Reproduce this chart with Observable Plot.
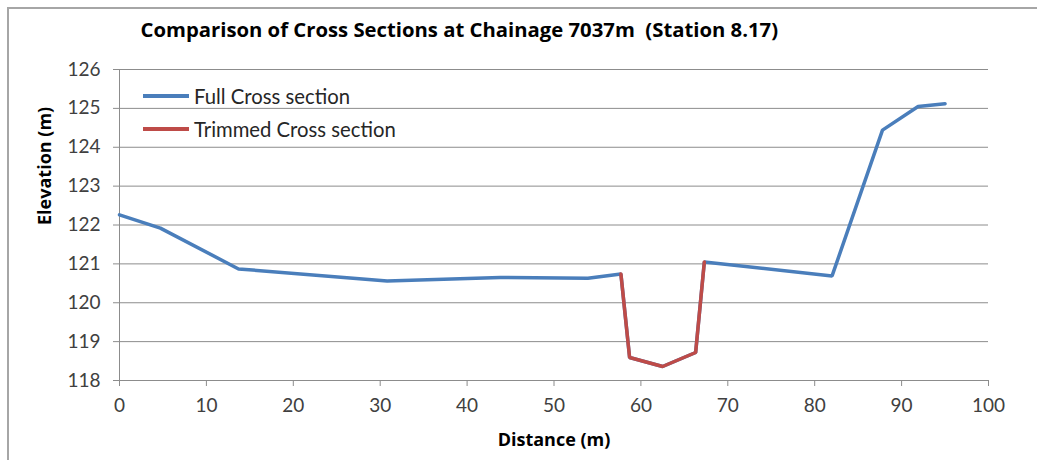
<!DOCTYPE html>
<html><head><meta charset="utf-8">
<script src="https://cdn.jsdelivr.net/npm/d3@7"></script>
<script src="https://cdn.jsdelivr.net/npm/@observablehq/plot@0.6"></script>
<style>
body{margin:0;background:#fff;font-family:Lato,"Open Sans",sans-serif;}
#wrap{position:relative;width:1037px;height:460px;overflow:hidden;}
#border{position:absolute;left:7px;top:7px;width:1040px;height:460px;border-top:2px solid #a6a6a6;border-left:2px solid #a6a6a6;}
.leg{position:absolute;left:143px;display:flex;align-items:center;font-size:20.3px;color:#262626;}
.leg span.sw{display:inline-block;width:46px;height:4px;margin-right:5px;}
</style></head>
<body><div id="wrap"><div id="border"></div><div id="chart"></div></div>
<script>
const title = "Comparison of Cross Sections at Chainage 7037m  (Station 8.17)";
const xLabel = "Distance (m)";
const yLabel = "Elevation (m)";
const seriesNames = ["Full Cross section", "Trimmed Cross section"];
const seriesColors = ["#4a7ebb", "#be4b48"];
const xTicks = [0, 10, 20, 30, 40, 50, 60, 70, 80, 90, 100];
const yTicks = [118, 119, 120, 121, 122, 123, 124, 125, 126];

const fullDistance = [0, 4.7, 13.7, 30.8, 43.8, 53.9, 57.7, 58.7, 62.5, 66.3, 67.3, 82.0, 87.8, 91.9, 95.0];
const fullElevation = [122.26, 121.92, 120.87, 120.56, 120.65, 120.63, 120.74, 118.59, 118.36, 118.72, 121.05, 120.69, 124.44, 125.05, 125.12];
const trimDistance = [57.7, 58.7, 62.5, 66.3, 67.3];
const trimElevation = [120.74, 118.59, 118.36, 118.72, 121.05];

const full = fullDistance.map((d, i) => ({x: d, y: fullElevation[i]}));
const trim = trimDistance.map((d, i) => ({x: d, y: trimElevation[i]}));

const boldFont = "'Open Sans', Lato, sans-serif";

const plot = Plot.plot({
  width: 1037, height: 460,
  marginLeft: 119, marginRight: 49, marginTop: 69, marginBottom: 80,
  style: {fontFamily: "Lato, 'Open Sans', sans-serif", background: "transparent", overflow: "visible"},
  x: {domain: [0, 100]},
  y: {domain: [118, 126]},
  marks: [
    Plot.gridY(yTicks, {stroke: "#8c8c8c", strokeOpacity: 1, strokeWidth: 1}),
    Plot.ruleX([0], {stroke: "#8c8c8c"}),
    Plot.ruleY([118], {stroke: "#8c8c8c"}),
    Plot.axisX(xTicks, {tickSize: 6, tickPadding: 12, fontSize: 19, color: "#404040", stroke: "#8c8c8c", label: null}),
    Plot.axisY(yTicks, {tickSize: 6, tickPadding: 13, fontSize: 19, color: "#404040", stroke: "#8c8c8c", label: null}),
    Plot.line(full, {x: "x", y: "y", stroke: seriesColors[0], strokeWidth: 3.5, strokeLinejoin: "miter"}),
    Plot.line(trim, {x: "x", y: "y", stroke: seriesColors[1], strokeWidth: 3.5, strokeLinejoin: "miter"}),
    Plot.text([title], {frameAnchor: "top-left", textAnchor: "start", dx: 21, dy: -39, fontSize: 20.3, fontWeight: "bold", fontFamily: boldFont, fill: "#000", lineAnchor: "middle"}),
    Plot.text([xLabel], {frameAnchor: "bottom", dy: 60, fontSize: 18, fontWeight: "bold", fontFamily: boldFont, fill: "#000", lineAnchor: "middle"}),
    Plot.text([yLabel], {frameAnchor: "left", dx: -74, rotate: -90, fontSize: 18, fontWeight: "bold", fontFamily: boldFont, fill: "#000", lineAnchor: "middle"})
  ]
});
document.getElementById("chart").appendChild(plot);
plot.style.position = "absolute"; plot.style.left = "0"; plot.style.top = "0";
plot.querySelectorAll("text").forEach(t => t.setAttribute("xml:space", "preserve"));
plot.querySelectorAll("text").forEach(t => t.style.whiteSpace = "pre");

const wrap = document.getElementById("wrap");
const legendTops = [96, 129];
seriesNames.forEach((n, i) => {
  const d = document.createElement("div");
  d.className = "leg";
  d.style.top = (legendTops[i] - 12) + "px";
  d.style.height = "24px";
  d.innerHTML = `<span class="sw" style="background:${seriesColors[i]}"></span><span>${n}</span>`;
  wrap.appendChild(d);
});
</script></body></html>
